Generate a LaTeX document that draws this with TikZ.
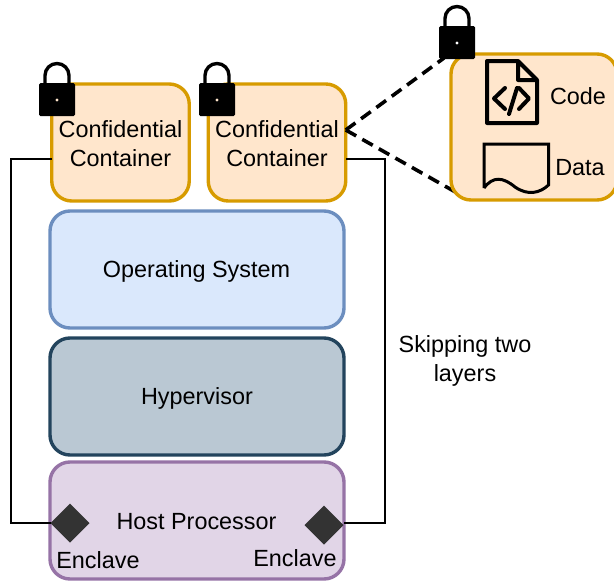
\documentclass[tikz,border=0pt]{standalone}
\usepackage{fontspec}
\setmainfont{Liberation Sans}
\usetikzlibrary{shapes.geometric}
\definecolor{orF}{HTML}{FFE6CC}\definecolor{orD}{HTML}{D79B00}
\definecolor{blF}{HTML}{DAE8FC}\definecolor{blD}{HTML}{6C8EBF}
\definecolor{grF}{HTML}{BAC8D3}\definecolor{grD}{HTML}{23445D}
\definecolor{puF}{HTML}{E1D5E7}\definecolor{puD}{HTML}{9673A6}
\definecolor{dia}{HTML}{333333}
\tikzset{
  txt/.style={font=\fontsize{23.4}{29}\selectfont,align=center,inner sep=0pt,outer sep=0pt,text=black},
  panel/.style={rounded corners=20pt,line width=3.4pt,outer sep=0pt,inner sep=0pt},
  cont/.style={panel,draw=orD,fill=orF,minimum width=137.5pt,minimum height=117pt},
  layer/.style={panel,minimum width=294pt,minimum height=117pt},
  enclave/.style={diamond,aspect=1,fill=dia,inner sep=0pt,outer sep=0pt,minimum size=39pt},
  wire/.style={draw=black,line width=1.5pt},
  dashline/.style={draw=black,line width=3.6pt,dash pattern=on 12pt off 7pt},
  iconline/.style={draw=black,line width=4pt,line join=round,line cap=round},
  lockicon/.pic={
    \draw[black,line width=3.4pt] (-12,22) -- (-12,13.5) arc[start angle=180,end angle=360,radius=12] -- (12,22);
    \fill[black,rounded corners=1.5pt] (-18,21) rectangle (18,54);
    \fill[pic actions] (0,38) circle (1.6);
  }
}
\begin{document}
\begin{tikzpicture}[x=1pt,y=-1pt]
\useasboundingbox (0,0) rectangle (614,581);
\fill[white] (0,0) rectangle (614,581);

\node[cont] (c1) at (120.5,142.5) {};
\node[cont] (c2) at (277,142.5) {};
\node[layer,draw=blD,fill=blF] (os) at (197,269.5) {};
\node[layer,draw=grD,fill=grF] (hv) at (197,396.5) {};
\node[layer,draw=puD,fill=puF] (hp) at (197,520.5) {};
\node[txt] (c1t) at (120.5,143.5) {Confidential\\Container};
\node[txt] (c2t) at (277,143.5) {Confidential\\Container};
\node[txt] (ost) at (196.5,271) {Operating System};
\node[txt] (hvt) at (197,398) {Hypervisor};
\node[txt] (hpt) at (196.5,522) {Host Processor};
\node[enclave] (e1) at (70,523) {};
\node[enclave] (e2) at (324,525) {};
\node[txt] (e1t) at (98,560) {Enclave};
\node[txt] (e2t) at (295,558) {Enclave};
\node[txt] (skip) at (465,360.5) {Skipping two\\layers};

\coordinate (c1w) at ([yshift=-16.5pt]c1.west);
\coordinate (c2e) at ([yshift=-16.5pt]c2.east);
\coordinate (c2d) at ([yshift=12.5pt]c2.east);
\draw[wire] (c1w) -- ++(-41,0) |- (e1.west);
\draw[wire] (c2e) -- ++(39,0) |- ([yshift=2pt]e2.east);

\coordinate (dt) at (444,58);
\coordinate (db) at (466,198);
\path[dashline] (c2d) -- (dt);
\path[dashline] (c2d) -- (db);
\node[panel,draw=orD,fill=orF,minimum width=166pt,minimum height=146pt] (detail) at (534,127) {};

\draw[iconline] (518,61) -- (487,61) -- (487,123) -- (537,123) -- (537,80) -- (518,61) -- (518,80) -- (537,80);
\draw[iconline] (505,88) -- (494,98.5) -- (505,109);
\draw[iconline] (519,88) -- (529,98.5) -- (519,109);
\draw[iconline] (517,88) -- (509,114);
\draw[black,line width=3pt,line join=miter] (484,188) -- (484,144) -- (548.5,144) -- (548.5,185)
  .. controls (540,193) and (528,196) .. (515,187)
  .. controls (503,177) and (493,176) .. (484,188);
\node[txt] (code) at (578,96) {Code};
\node[txt] (data) at (580,168) {Data};

\pic[fill=orF] at (57,62) {lockicon};
\pic[fill=orF] at (217,62) {lockicon};
\pic[fill=white] at (457,5) {lockicon};
\end{tikzpicture}
\end{document}
